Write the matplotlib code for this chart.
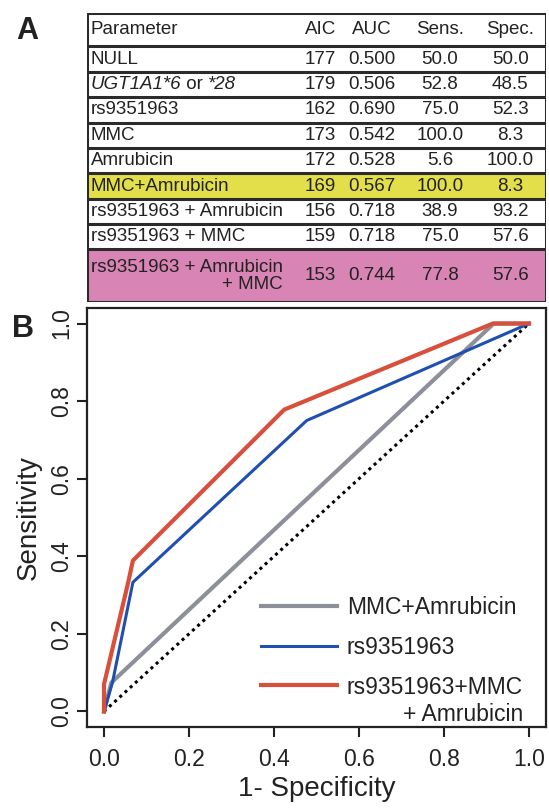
import numpy as np
import matplotlib
matplotlib.use("Agg")
import matplotlib.pyplot as plt
from matplotlib.patches import Rectangle
from matplotlib.legend_handler import HandlerLine2D

plt.rcParams['font.family'] = ['Liberation Sans', 'DejaVu Sans']

# table (panel A)
header = ["Parameter", "AIC", "AUC", "Sens.", "Spec."]
params = ["NULL", "UGT1A1*6 or *28", "rs9351963", "MMC", "Amrubicin", "MMC+Amrubicin",
          "rs9351963 + Amrubicin", "rs9351963 + MMC", "rs9351963 + Amrubicin\n+ MMC"]
aic = [177, 179, 162, 173, 172, 169, 156, 159, 153]
auc = ["0.500", "0.506", "0.690", "0.542", "0.528", "0.567", "0.718", "0.718", "0.744"]
sens = ["50.0", "52.8", "75.0", "100.0", "5.6", "100.0", "38.9", "75.0", "77.8"]
spec = ["50.0", "48.5", "52.3", "8.3", "100.0", "8.3", "93.2", "57.6", "57.6"]
row_fill = [None, None, None, None, None, "#e3df4a", None, None, "#d884b4"]

# ROC curves (panel B)
fpr_mmc_amr = [0.0, 0.017, 0.917, 1.0]
tpr_mmc_amr = [0.0, 0.074, 1.0, 1.0]
fpr_rs = [0.0, 0.02, 0.068, 0.477, 1.0]
tpr_rs = [0.0, 0.075, 0.333, 0.75, 1.0]
fpr_all = [0.0, 0.0, 0.057, 0.068, 0.424, 0.915, 1.0]
tpr_all = [0.0, 0.07, 0.333, 0.389, 0.778, 1.0, 1.0]
ref_line = [0.0, 1.0]
ticks = [0.0, 0.2, 0.4, 0.6, 0.8, 1.0]

W, H = 549, 809


class RaisedLine(HandlerLine2D):
    # legend line drawn level with the first text line
    def __init__(self, shift, **kw):
        super().__init__(**kw)
        self.shift = shift

    def create_artists(self, legend, orig_handle, xdescent, ydescent, width, height, fontsize, trans):
        arts = super().create_artists(legend, orig_handle, xdescent, ydescent, width, height, fontsize, trans)
        for a in arts:
            a.set_ydata(np.asarray(a.get_ydata()) + self.shift)
        return arts


def draw_table(ax):
    heights = [1.32] + [1.0] * 8 + [2.07]
    edges = np.concatenate([[0], np.cumsum(heights)])
    ax.set_xlim(0, 1)
    ax.set_ylim(edges[-1], 0)
    ax.axis("off")
    cols = [0.508, 0.621, 0.769, 0.922]
    fs = 13.5
    for i, fill in enumerate(row_fill):
        if fill:
            ax.add_patch(Rectangle((0, edges[i + 1]), 1, heights[i + 1], color=fill, lw=0))
    for e in edges:
        ax.axhline(e, color="#2b2b2b", lw=2.2)
    ax.axvline(0, color="#2b2b2b", lw=2.2)
    ax.axvline(1, color="#2b2b2b", lw=2.2)

    yc = (edges[:-1] + edges[1:]) / 2
    ax.text(0.008, yc[0], header[0], fontsize=fs, va="center", ha="left", color="#222")
    for c, h in zip(cols, header[1:]):
        ax.text(c, yc[0], h, fontsize=fs, va="center", ha="center", color="#222")
    for i in range(len(params)):
        y = yc[i + 1]
        if params[i].startswith("UGT"):
            t1 = ax.text(0.008, y, "UGT1A1*6", fontsize=fs, style="italic", va="center", ha="left", color="#222")
            t2 = ax.annotate(" or ", xy=(1, 0), xycoords=t1, fontsize=fs, va="bottom", ha="left", color="#222")
            ax.annotate("*28", xy=(1, 0), xycoords=t2, fontsize=fs, style="italic", va="bottom", ha="left", color="#222")
        else:
            ax.text(0.008, y, params[i], fontsize=fs, va="center", ha="left", color="#222",
                    multialignment="right", linespacing=1.0)
        for c, v in zip(cols, [aic[i], auc[i], sens[i], spec[i]]):
            ax.text(c, y, str(v), fontsize=fs, va="center", ha="center", color="#222")


def draw_roc(ax):
    ax.plot(ref_line, ref_line, color="black", lw=2.2, linestyle=(0, (1, 1.3)))
    ax.plot(fpr_mmc_amr, tpr_mmc_amr, color="#8e9099", lw=3, label="MMC+Amrubicin")
    ax.plot(fpr_rs, tpr_rs, color="#1f4fb0", lw=2.2, label="rs9351963")
    ax.plot(fpr_all, tpr_all, color="#d8503c", lw=3, label="rs9351963+MMC\n+ Amrubicin")
    ax.set_xlim(-0.04, 1.04)
    ax.set_ylim(-0.04, 1.04)
    ax.set_xticks(ticks)
    ax.set_yticks(ticks)
    ax.set_xticklabels(["%.1f" % t for t in ticks])
    ax.set_yticklabels(["%.1f" % t for t in ticks], rotation=90, va="center")
    ax.tick_params(direction="out", length=7, width=1.5, labelsize=16.5, colors="#222")
    ax.tick_params(axis="x", pad=8)
    ax.tick_params(axis="y", pad=3)
    for s in ax.spines.values():
        s.set_linewidth(1.6)
        s.set_color("#222")
    ax.set_xlabel("1- Specificity", fontsize=20, labelpad=4, color="#222")
    ax.set_ylabel("Sensitivity", fontsize=20, labelpad=6, color="#222")

    handles, labels = ax.get_legend_handles_labels()
    leg = ax.legend(handles, labels, loc="upper left", bbox_to_anchor=(0.379, 0.313),
                    frameon=False, fontsize=16.5, handlelength=3.3, handletextpad=0.45,
                    labelspacing=0.75, borderpad=0, borderaxespad=0,
                    handler_map={handles[2]: RaisedLine(12)})
    for t in leg.get_texts():
        t.set_multialignment("right")
        t.set_color("#222")


fig = plt.figure(figsize=(W / 100, H / 100), dpi=100)
ax_t = fig.add_axes([87 / W, (H - 302) / H, 459 / W, 289 / H])
draw_table(ax_t)
ax = fig.add_axes([87 / W, 82 / H, 459 / W, 419 / H])
draw_roc(ax)
fig.text(27 / W, 1 - 31 / H, "A", fontsize=22, fontweight="bold", ha="center", va="center", color="#222")
fig.text(23 / W, 1 - 329 / H, "B", fontsize=22, fontweight="bold", ha="center", va="center", color="#222")
fig.savefig("out.png", dpi=100)
